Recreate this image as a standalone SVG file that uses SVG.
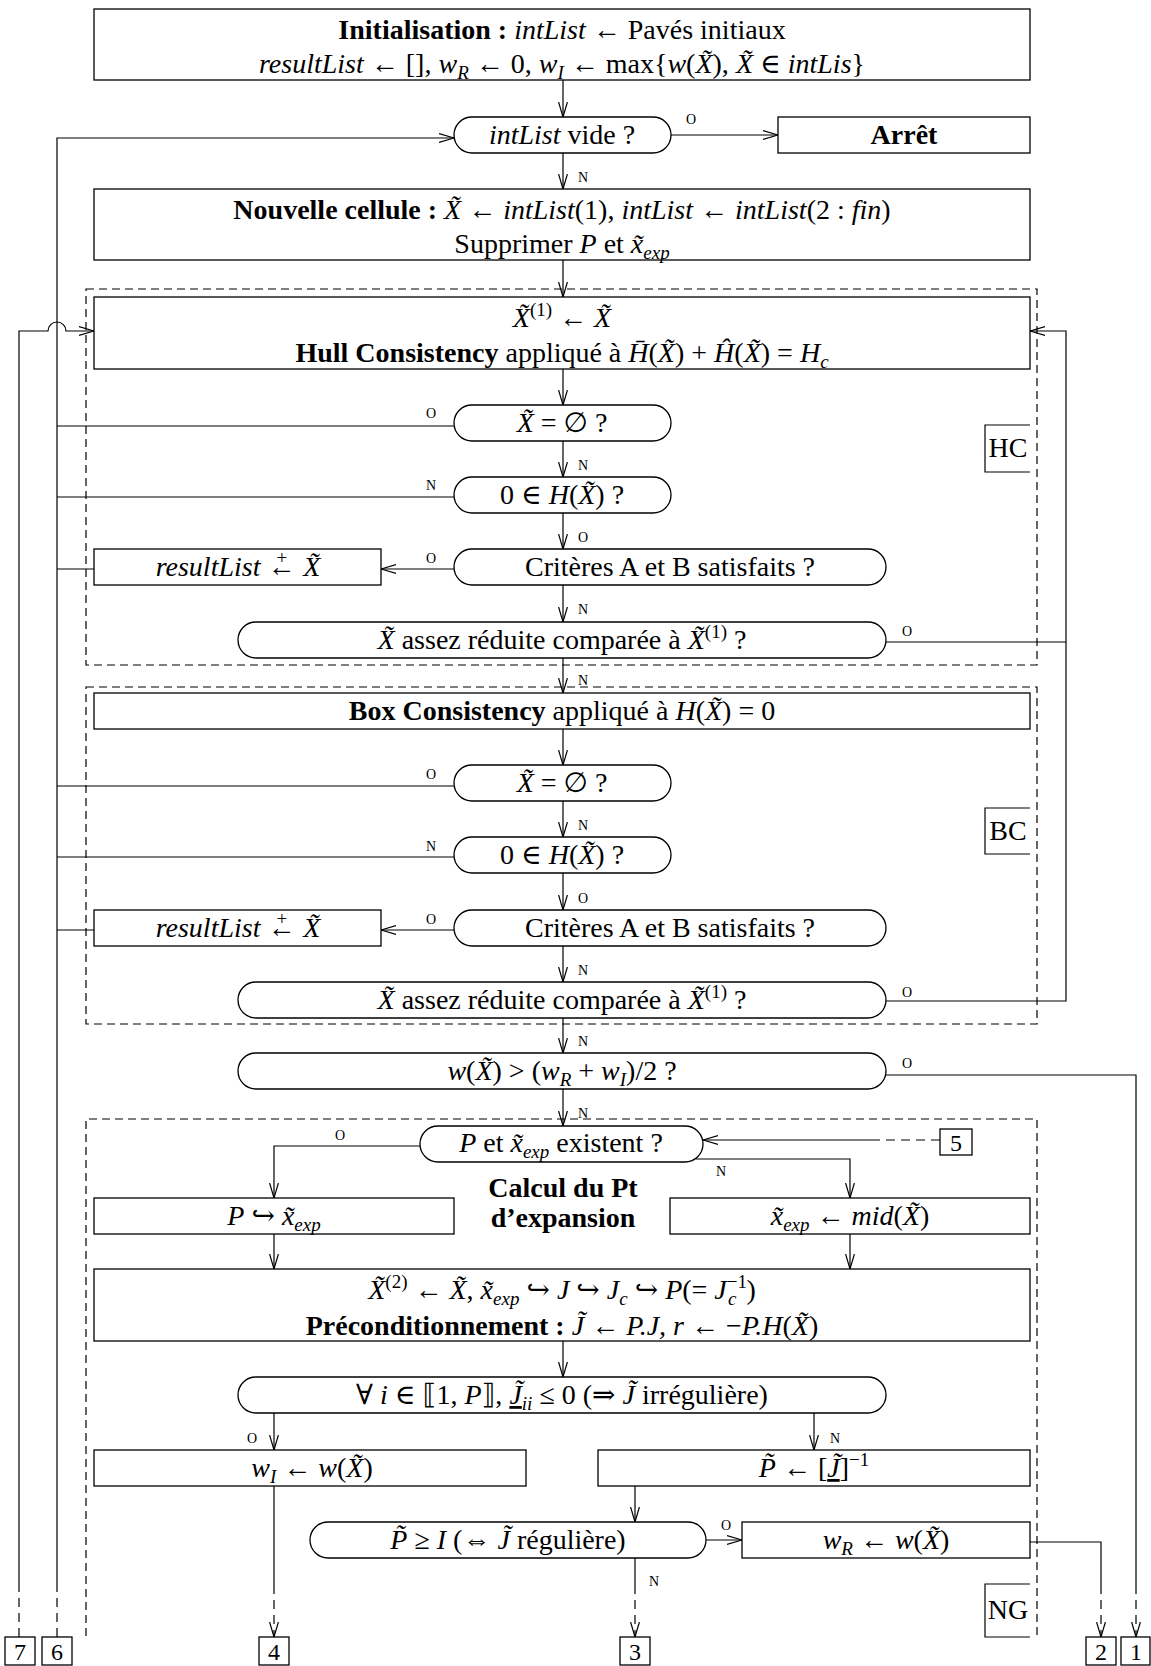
<svg xmlns="http://www.w3.org/2000/svg" width="1151" height="1666" viewBox="0 0 1151 1666">
<defs>
<style>
text{font-family:"Liberation Serif","DejaVu Serif","DejaVu Sans",serif;font-size:28px;fill:#000;text-anchor:middle}
.i{font-style:italic}
.b{font-weight:bold}
.s{font-size:19px}
.l{font-size:14px;text-anchor:start}
.n{font-size:24px}
.box{fill:#fff;stroke:#000;stroke-width:1.3}
.reg{fill:none;stroke:#000;stroke-width:1.2;stroke-dasharray:8 5}
.ln{fill:none;stroke:#000;stroke-width:1.2}
.dl{fill:none;stroke:#000;stroke-width:1.2;stroke-dasharray:9 6}
.tag{fill:none;stroke:#000;stroke-width:1.2}
</style>
<marker id="a" markerWidth="16" markerHeight="10" refX="15" refY="5" orient="auto" markerUnits="userSpaceOnUse"><path d="M0,0.6 L15,5 L0,9.4" fill="none" stroke="#000" stroke-width="1.2"/></marker>
</defs>
<rect width="1151" height="1666" fill="#fff"/>

<g id="regions">
<rect class="reg" x="86" y="289" width="951" height="376"/>
<rect class="reg" x="86" y="687" width="951" height="337"/>
<path class="reg" d="M86,1636 V1119 H1037 V1636"/>
<path class="tag" d="M1030,425 H985 V472 H1030"/><text x="1008" y="457">HC</text>
<path class="tag" d="M1030,808 H985 V854 H1030"/><text x="1008" y="840">BC</text>
<path class="tag" d="M1030,1584 H985 V1637 H1030"/><text x="1008" y="1619">NG</text>
</g>

<g id="connectors">
<path class="ln" d="M563,80 V117" marker-end="url(#a)"/>
<path class="ln" d="M671,135 H778" marker-end="url(#a)"/>
<path class="ln" d="M563,153 V189" marker-end="url(#a)"/>
<path class="ln" d="M563,260 V297" marker-end="url(#a)"/>
<path class="ln" d="M563,369 V405" marker-end="url(#a)"/>
<path class="ln" d="M563,441 V477" marker-end="url(#a)"/>
<path class="ln" d="M563,513 V549" marker-end="url(#a)"/>
<path class="ln" d="M454,569 H381" marker-end="url(#a)"/>
<path class="ln" d="M563,585 V622" marker-end="url(#a)"/>
<path class="ln" d="M563,658 V693" marker-end="url(#a)"/>
<path class="ln" d="M563,729 V765" marker-end="url(#a)"/>
<path class="ln" d="M563,801 V837" marker-end="url(#a)"/>
<path class="ln" d="M563,873 V910" marker-end="url(#a)"/>
<path class="ln" d="M454,930 H381" marker-end="url(#a)"/>
<path class="ln" d="M563,946 V982" marker-end="url(#a)"/>
<path class="ln" d="M563,1018 V1053" marker-end="url(#a)"/>
<path class="ln" d="M563,1089 V1126" marker-end="url(#a)"/>
<!-- left loop to intList vide -->
<path class="dl" d="M57,1637 V1585"/>
<path class="ln" d="M57,1585 V138 H454" marker-end="url(#a)"/>
<path class="ln" d="M454,426 H57 M454,497 H57 M94,569 H57 M454,786 H57 M454,857 H57 M94,930 H57"/>
<!-- line from 7 to hull box -->
<path class="dl" d="M19,1637 V1585"/>
<path class="ln" d="M19,1585 V331 H48 A9,9 0 0 1 66,331 H94" marker-end="url(#a)"/>
<!-- right loop back to hull -->
<path class="ln" d="M886,642 H1066 M886,1001 H1066 V331 H1030" marker-end="url(#a)"/>
<!-- w > to box 1 -->
<path class="ln" d="M886,1075 H1136 V1585"/>
<path class="dl" d="M1136,1585 V1637" marker-end="url(#a)"/>
<!-- NG region -->
<path class="dl" d="M940,1140 H880"/>
<path class="ln" d="M880,1140 H703" marker-end="url(#a)"/>
<path class="ln" d="M420,1146 H274 V1198" marker-end="url(#a)"/>
<path class="ln" d="M696,1159 H850 V1198" marker-end="url(#a)"/>
<path class="ln" d="M274,1234 V1269" marker-end="url(#a)"/>
<path class="ln" d="M850,1234 V1269" marker-end="url(#a)"/>
<path class="ln" d="M563,1341 V1377" marker-end="url(#a)"/>
<path class="ln" d="M274,1413 V1450" marker-end="url(#a)"/>
<path class="ln" d="M814,1413 V1450" marker-end="url(#a)"/>
<path class="ln" d="M274,1486 V1585"/>
<path class="dl" d="M274,1585 V1637" marker-end="url(#a)"/>
<path class="ln" d="M635,1486 V1522" marker-end="url(#a)"/>
<path class="ln" d="M706,1540 H742" marker-end="url(#a)"/>
<path class="ln" d="M635,1558 V1585"/>
<path class="dl" d="M635,1585 V1637" marker-end="url(#a)"/>
<path class="ln" d="M1030,1542 H1101 V1585"/>
<path class="dl" d="M1101,1585 V1637" marker-end="url(#a)"/>
<!-- O / N labels -->
<text class="l" x="686" y="124">O</text>
<text class="l" x="578" y="182">N</text>
<text class="l" x="426" y="418">O</text>
<text class="l" x="578" y="470">N</text>
<text class="l" x="426" y="490">N</text>
<text class="l" x="578" y="542">O</text>
<text class="l" x="426" y="563">O</text>
<text class="l" x="578" y="614">N</text>
<text class="l" x="902" y="636">O</text>
<text class="l" x="578" y="685">N</text>
<text class="l" x="426" y="779">O</text>
<text class="l" x="578" y="830">N</text>
<text class="l" x="426" y="851">N</text>
<text class="l" x="578" y="903">O</text>
<text class="l" x="426" y="924">O</text>
<text class="l" x="578" y="975">N</text>
<text class="l" x="902" y="997">O</text>
<text class="l" x="578" y="1046">N</text>
<text class="l" x="902" y="1068">O</text>
<text class="l" x="578" y="1118">N</text>
<text class="l" x="335" y="1140">O</text>
<text class="l" x="716" y="1176">N</text>
<text class="l" x="247" y="1443">O</text>
<text class="l" x="830" y="1443">N</text>
<text class="l" x="721" y="1530">O</text>
<text class="l" x="649" y="1586">N</text>
</g>

<g id="init">
<rect class="box" x="94" y="9" width="936" height="71"/>
<text x="562" y="39"><tspan class="b">Initialisation :</tspan> <tspan class="i">intList</tspan> ← Pavés initiaux</text>
<text x="562" y="73"><tspan class="i">resultList</tspan> ← [], <tspan class="i">w</tspan><tspan class="s i" dy="6">R</tspan><tspan dy="-6"> ← 0, </tspan><tspan class="i">w</tspan><tspan class="s i" dy="6">I</tspan><tspan dy="-6"> ← max{</tspan><tspan class="i">w</tspan>(<tspan class="i">X̃</tspan>), <tspan class="i">X̃</tspan> ∈ <tspan class="i">intLis</tspan>}</text>
</g>

<g id="intlist-vide">
<rect class="box" x="454" y="117" width="217" height="36" rx="18"/>
<text x="562" y="144"><tspan class="i">intList</tspan> vide ?</text>
</g>

<g id="arret">
<rect class="box" x="778" y="117" width="252" height="36"/>
<text x="904" y="144" class="b">Arrêt</text>
</g>

<g id="nouvelle-cellule">
<rect class="box" x="94" y="189" width="936" height="71"/>
<text x="562" y="219"><tspan class="b">Nouvelle cellule :</tspan> <tspan class="i">X̃</tspan> ← <tspan class="i">intList</tspan>(1), <tspan class="i">intList</tspan> ← <tspan class="i">intList</tspan>(2 : <tspan class="i">fin</tspan>)</text>
<text x="562" y="253">Supprimer <tspan class="i">P</tspan> et <tspan class="i">x̃</tspan><tspan class="s i" dy="6">exp</tspan></text>
</g>

<g id="hull">
<rect class="box" x="94" y="297" width="936" height="72"/>
<text x="562" y="327"><tspan class="i">X̃</tspan><tspan class="s" dy="-11">(1)</tspan><tspan dy="11"> ← </tspan><tspan class="i">X̃</tspan></text>
<text x="562" y="362"><tspan class="b">Hull Consistency</tspan> appliqué à <tspan class="i">H̄</tspan>(<tspan class="i">X̃</tspan>) + <tspan class="i">Ĥ</tspan>(<tspan class="i">X̃</tspan>) = <tspan class="i">H</tspan><tspan class="s i" dy="6">c</tspan></text>
</g>

<g id="hc-vide">
<rect class="box" x="454" y="405" width="217" height="36" rx="18"/>
<text x="562" y="432"><tspan class="i">X̃</tspan> = ∅ ?</text>
</g>

<g id="hc-zero">
<rect class="box" x="454" y="477" width="217" height="36" rx="18"/>
<text x="562" y="504">0 ∈ <tspan class="i">H</tspan>(<tspan class="i">X̃</tspan>) ?</text>
</g>

<g id="hc-criteres">
<rect class="box" x="454" y="549" width="432" height="36" rx="18"/>
<text x="670" y="576">Critères A et B satisfaits ?</text>
</g>

<g id="hc-result">
<rect class="box" x="94" y="549" width="287" height="36"/>
<text x="238" y="576"><tspan class="i">resultList</tspan> ←<tspan class="s" dx="-19" dy="-12">+</tspan><tspan dx="9" dy="12"> </tspan><tspan class="i">X̃</tspan></text>
</g>

<g id="hc-reduite">
<rect class="box" x="238" y="622" width="648" height="36" rx="18"/>
<text x="562" y="649"><tspan class="i">X̃</tspan> assez réduite comparée à <tspan class="i">X̃</tspan><tspan class="s" dy="-11">(1)</tspan><tspan dy="11"> ?</tspan></text>
</g>

<g id="box-consistency">
<rect class="box" x="94" y="693" width="936" height="36"/>
<text x="562" y="720"><tspan class="b">Box Consistency</tspan> appliqué à <tspan class="i">H</tspan>(<tspan class="i">X̃</tspan>) = 0</text>
</g>

<g id="bc-vide">
<rect class="box" x="454" y="765" width="217" height="36" rx="18"/>
<text x="562" y="792"><tspan class="i">X̃</tspan> = ∅ ?</text>
</g>

<g id="bc-zero">
<rect class="box" x="454" y="837" width="217" height="36" rx="18"/>
<text x="562" y="864">0 ∈ <tspan class="i">H</tspan>(<tspan class="i">X̃</tspan>) ?</text>
</g>

<g id="bc-criteres">
<rect class="box" x="454" y="910" width="432" height="36" rx="18"/>
<text x="670" y="937">Critères A et B satisfaits ?</text>
</g>

<g id="bc-result">
<rect class="box" x="94" y="910" width="287" height="36"/>
<text x="238" y="937"><tspan class="i">resultList</tspan> ←<tspan class="s" dx="-19" dy="-12">+</tspan><tspan dx="9" dy="12"> </tspan><tspan class="i">X̃</tspan></text>
</g>

<g id="bc-reduite">
<rect class="box" x="238" y="982" width="648" height="36" rx="18"/>
<text x="562" y="1009"><tspan class="i">X̃</tspan> assez réduite comparée à <tspan class="i">X̃</tspan><tspan class="s" dy="-11">(1)</tspan><tspan dy="11"> ?</tspan></text>
</g>

<g id="w-test">
<rect class="box" x="238" y="1053" width="648" height="36" rx="18"/>
<text x="562" y="1080"><tspan class="i">w</tspan>(<tspan class="i">X̃</tspan>) &gt; (<tspan class="i">w</tspan><tspan class="s i" dy="6">R</tspan><tspan dy="-6"> + </tspan><tspan class="i">w</tspan><tspan class="s i" dy="6">I</tspan><tspan dy="-6">)/2 ?</tspan></text>
</g>

<g id="p-existent">
<rect class="box" x="420" y="1126" width="283" height="36" rx="18"/>
<text x="561" y="1152"><tspan class="i">P</tspan> et <tspan class="i">x̃</tspan><tspan class="s i" dy="6">exp</tspan><tspan dy="-6"> existent ?</tspan></text>
</g>

<g id="calcul-label">
<text x="563" y="1197" class="b">Calcul du Pt</text>
<text x="563" y="1227" class="b">d’expansion</text>
</g>

<g id="p-xexp">
<rect class="box" x="94" y="1198" width="360" height="36"/>
<text x="274" y="1225"><tspan class="i">P</tspan> ↪ <tspan class="i">x̃</tspan><tspan class="s i" dy="6">exp</tspan></text>
</g>

<g id="xexp-mid">
<rect class="box" x="670" y="1198" width="360" height="36"/>
<text x="850" y="1225"><tspan class="i">x̃</tspan><tspan class="s i" dy="6">exp</tspan><tspan dy="-6"> ← </tspan><tspan class="i">mid</tspan>(<tspan class="i">X̃</tspan>)</text>
</g>

<g id="precond">
<rect class="box" x="94" y="1269" width="936" height="72"/>
<text x="562" y="1299"><tspan class="i">X̃</tspan><tspan class="s" dy="-11">(2)</tspan><tspan dy="11"> ← </tspan><tspan class="i">X̃</tspan>, <tspan class="i">x̃</tspan><tspan class="s i" dy="6">exp</tspan><tspan dy="-6"> ↪ </tspan><tspan class="i">J</tspan> ↪ <tspan class="i">J</tspan><tspan class="s i" dy="6">c</tspan><tspan dy="-6"> ↪ </tspan><tspan class="i">P</tspan>(= <tspan class="i">J</tspan><tspan class="s" dy="-11">−1</tspan><tspan class="s i" dx="-19" dy="17">c</tspan><tspan dx="10" dy="-6">)</tspan></text>
<text x="562" y="1335"><tspan class="b">Préconditionnement :</tspan> <tspan class="i">J̃</tspan> ← <tspan class="i">P.J, r</tspan> ← −<tspan class="i">P.H</tspan>(<tspan class="i">X̃</tspan>)</text>
</g>

<g id="forall-test">
<rect class="box" x="238" y="1377" width="648" height="36" rx="18"/>
<text x="562" y="1404">∀ <tspan class="i">i</tspan> ∈ ⟦1, <tspan class="i">P</tspan>⟧, <tspan class="i" text-decoration="underline">J̃</tspan><tspan class="s i" dy="6">ii</tspan><tspan dy="-6"> ≤ 0 (⇒ </tspan><tspan class="i">J̃</tspan> irrégulière)</text>
</g>

<g id="wi">
<rect class="box" x="94" y="1450" width="432" height="36"/>
<text x="312" y="1477"><tspan class="i">w</tspan><tspan class="s i" dy="6">I</tspan><tspan dy="-6"> ← </tspan><tspan class="i">w</tspan>(<tspan class="i">X̃</tspan>)</text>
</g>

<g id="p-tilde">
<rect class="box" x="598" y="1450" width="432" height="36"/>
<text x="814" y="1477"><tspan class="i">P̃</tspan> ← [<tspan class="i" text-decoration="underline">J̃</tspan>]<tspan class="s" dy="-11">−1</tspan></text>
</g>

<g id="p-regular">
<rect class="box" x="310" y="1522" width="396" height="36" rx="18"/>
<text x="508" y="1549"><tspan class="i">P̃</tspan> ≥ <tspan class="i">I</tspan> (⇔ <tspan class="i">J̃</tspan> régulière)</text>
</g>

<g id="wr">
<rect class="box" x="742" y="1522" width="288" height="36"/>
<text x="886" y="1549"><tspan class="i">w</tspan><tspan class="s i" dy="6">R</tspan><tspan dy="-6"> ← </tspan><tspan class="i">w</tspan>(<tspan class="i">X̃</tspan>)</text>
</g>

<g id="c7"><rect class="box" x="5" y="1637" width="30" height="28"/><text class="n" x="20" y="1660">7</text></g>
<g id="c6"><rect class="box" x="42" y="1637" width="30" height="28"/><text class="n" x="57" y="1660">6</text></g>
<g id="c4"><rect class="box" x="259" y="1637" width="30" height="28"/><text class="n" x="274" y="1660">4</text></g>
<g id="c3"><rect class="box" x="620" y="1637" width="30" height="28"/><text class="n" x="635" y="1660">3</text></g>
<g id="c2"><rect class="box" x="1086" y="1637" width="30" height="28"/><text class="n" x="1101" y="1660">2</text></g>
<g id="c1"><rect class="box" x="1121" y="1637" width="29" height="28"/><text class="n" x="1136" y="1660">1</text></g>
<g id="c5"><rect class="box" x="940" y="1129" width="32" height="26"/><text class="n" x="956" y="1151">5</text></g>
</svg>
